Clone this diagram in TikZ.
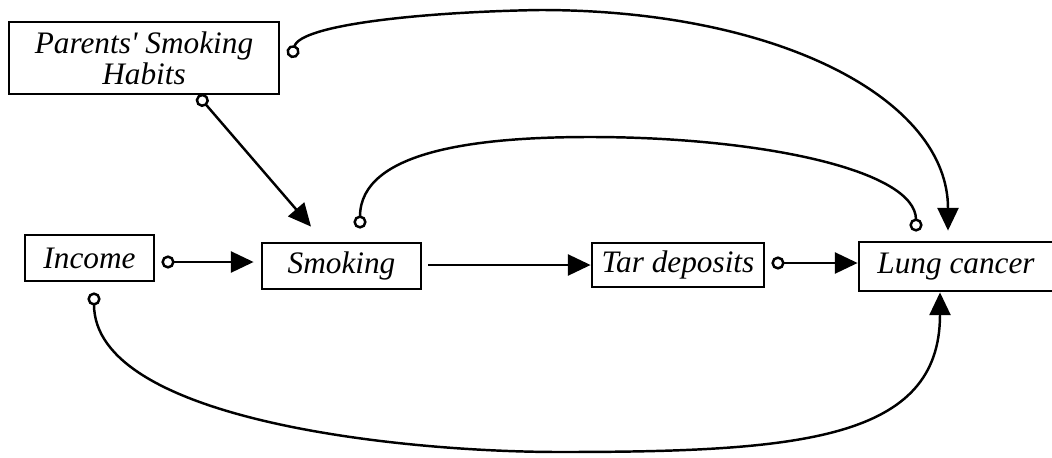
\documentclass[tikz,border=0pt]{standalone}
\usepackage{fontspec}
\setmainfont{Liberation Serif}
\usetikzlibrary{arrows.meta}
\begin{document}
\begin{tikzpicture}[x=0.02cm,y=-0.02cm,
  box/.style={draw,line width=1.6pt,inner sep=0pt,font=\fontsize{17.8}{17.6}\selectfont\itshape,align=center},
  conn/.style={line width=1.4pt},
  arr/.style={-{Triangle[length=13pt,width=12pt]}},
  oarr/.style={{Circle[open,length=7.5pt,width=7.5pt]}-{Triangle[length=13pt,width=12pt]}},
  oo/.style={{Circle[open,length=7.5pt,width=7.5pt]}-{Circle[open,length=7.5pt,width=7.5pt]}}
]
\useasboundingbox (0,0) rectangle (1052,457);
\node[box,minimum width=5.4cm,minimum height=1.44cm] (par) at (144,58) {Parents\textquotesingle{} Smoking\\Habits};
\node[box,minimum width=2.58cm,minimum height=0.92cm] (inc) at (89.5,258) {Income};
\node[box,minimum width=3.18cm,minimum height=0.92cm] (smk) at (341.5,266) {Smoking};
\node[box,minimum width=3.44cm,minimum height=0.88cm] (tar) at (678,265) {Tar deposits};
\node[box,minimum width=3.88cm,minimum height=0.98cm] (lung) at (956,266.5) {Lung cancer};

\draw[conn,oarr] ([shift={(6,4)}]inc.east) -- ([shift={(-7,-4)}]smk.west);
\draw[conn,arr] ([shift={(6,-1)}]smk.east) -- (tar.west);
\draw[conn,oarr] ([shift={(6,-2)}]tar.east) -- ([shift={(0,-3.5)}]lung.west);
\draw[conn,oarr] ([shift={(54,0)}]par.south) -- ([shift={(-30.5,-15)}]smk.north);
\draw[conn,oarr] ([shift={(11,0)}]par.east) .. controls (300,25) and (420,12) .. (540,10)
  .. controls (780,10) and (948,100) .. ([shift={(-8,-10)}]lung.north);
\draw[conn,oo] ([shift={(18.5,-13)}]smk.north) .. controls (360,150) and (480,137) .. (590,137)
  .. controls (760,137) and (916,170) .. ([shift={(-40,-9)}]lung.north);
\draw[conn,oarr] ([shift={(4.5,10)}]inc.south) .. controls (94,420) and (400,452) .. (560,452)
  .. controls (800,452) and (940,440) .. ([shift={(-16,0)}]lung.south);
\end{tikzpicture}
\end{document}
